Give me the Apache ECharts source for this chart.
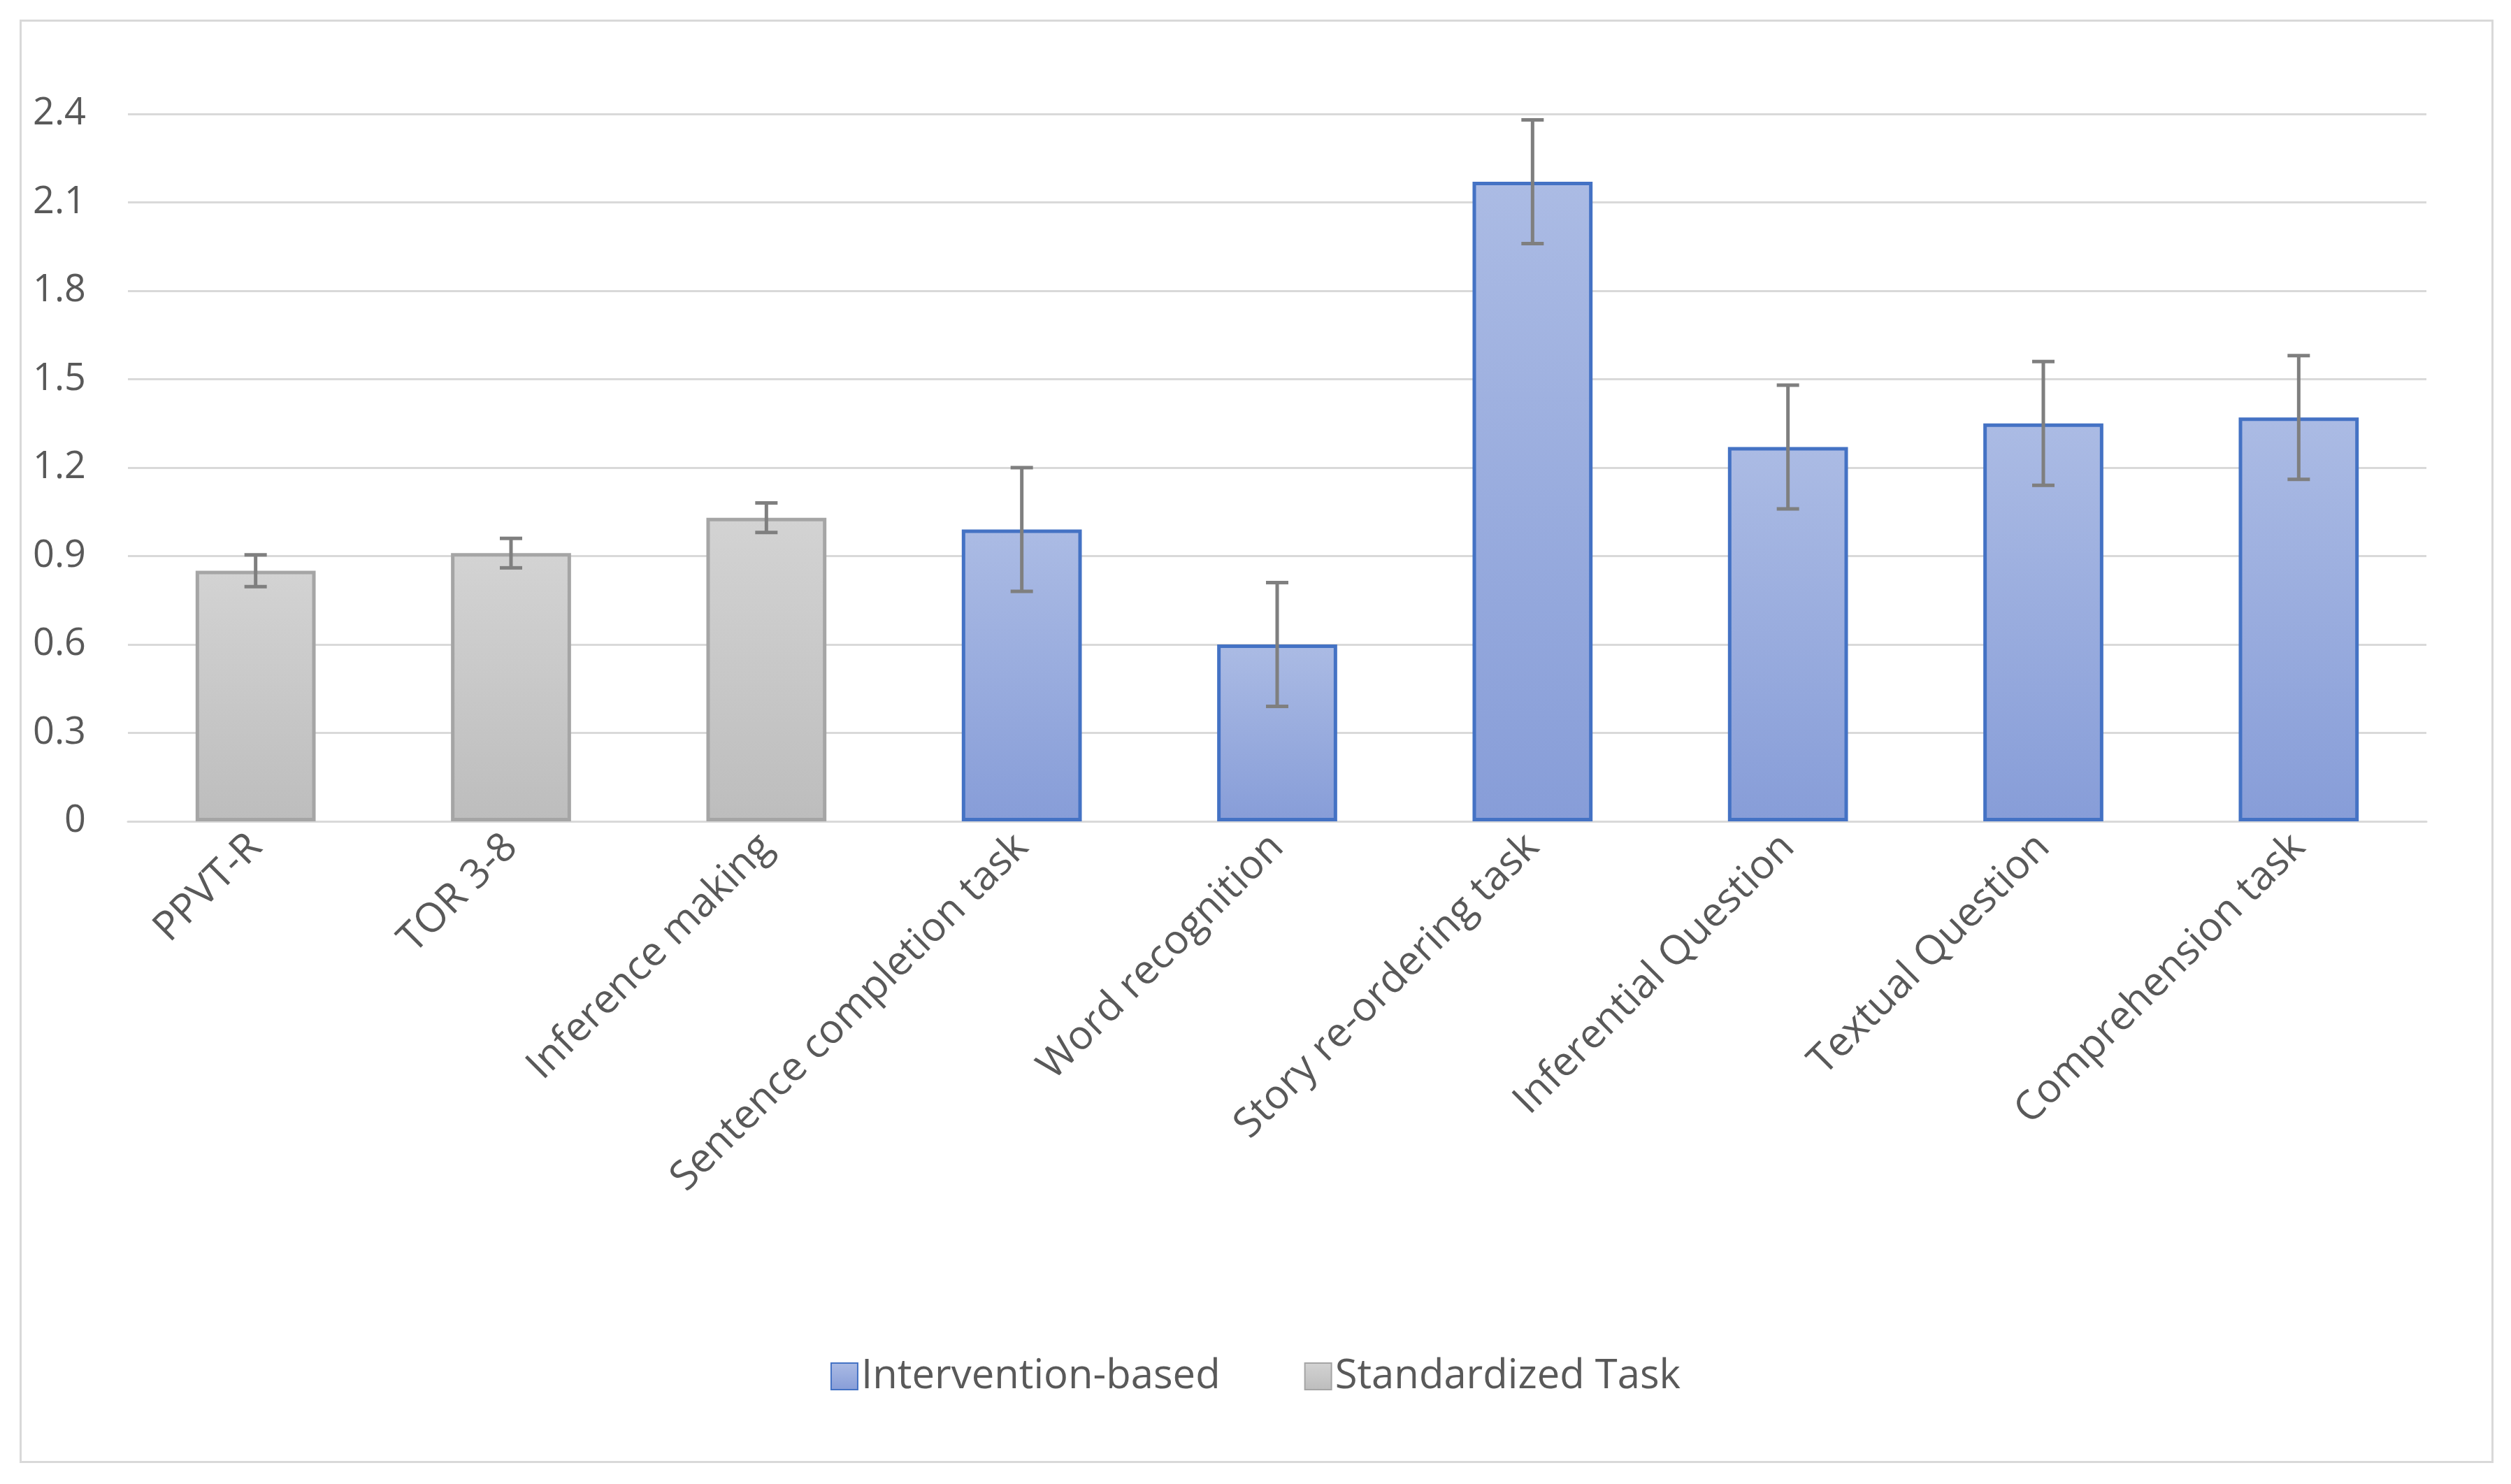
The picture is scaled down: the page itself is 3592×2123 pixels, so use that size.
<!DOCTYPE html>
<html>
<head>
<meta charset="utf-8">
<script src="https://cdn.jsdelivr.net/npm/echarts@6/dist/echarts.min.js"></script>
<style>html,body{margin:0;padding:0;background:#fff}#main{width:3592px;height:2123px}</style>
</head>
<body>
<div id="main"></div>
<script>
var categories = ['PPVT-R', 'TOR 3-8', 'Inference making', 'Sentence completion task', 'Word recognition',
  'Story re-ordering task', 'Inferential Question', 'Textual Question', 'Comprehension task'];
var standardized = [0.85, 0.91, 1.03, '-', '-', '-', '-', '-', '-'];
var intervention = ['-', '-', '-', 0.99, 0.60, 2.17, 1.27, 1.35, 1.37];
var errors = [0.054, 0.05, 0.05, 0.21, 0.21, 0.21, 0.21, 0.21, 0.21];
var values = [0.85, 0.91, 1.03, 0.99, 0.60, 2.17, 1.27, 1.35, 1.37];

var chart = echarts.init(document.getElementById('main'));
var font = 'Open Sans, Liberation Sans, sans-serif';

var blueFill = new echarts.graphic.LinearGradient(0, 0, 0, 1, [
  {offset: 0, color: '#abbbe4'}, {offset: 1, color: '#879dd8'}]);
var grayFill = new echarts.graphic.LinearGradient(0, 0, 0, 1, [
  {offset: 0, color: '#d3d3d3'}, {offset: 1, color: '#bdbdbd'}]);

var option = {
  animation: false,
  graphic: [{
    type: 'rect', left: 27, top: 27,
    shape: {width: 3536, height: 2062},
    style: {fill: 'none', stroke: '#d9d9d9', lineWidth: 3}
  }],
  grid: {left: 183, right: 121, top: 163, bottom: 948, containLabel: false},
  legend: {
    bottom: 120, left: 'center', itemGap: 120, itemWidth: 38, itemHeight: 38,
    textStyle: {fontSize: 58, color: '#595959', fontFamily: font},
    data: [
      {name: 'Intervention-based', icon: 'rect'},
      {name: 'Standardized Task', icon: 'rect'}
    ]
  },
  xAxis: {
    type: 'category', data: categories,
    axisTick: {show: false},
    axisLine: {lineStyle: {color: '#d9d9d9', width: 3}},
    axisLabel: {rotate: 45, interval: 0, fontSize: 58, color: '#595959', fontFamily: font, margin: 28}
  },
  yAxis: {
    type: 'value', min: 0, max: 2.4, interval: 0.3,
    axisLine: {show: false}, axisTick: {show: false},
    splitLine: {lineStyle: {color: '#d9d9d9', width: 3}},
    axisLabel: {fontSize: 54, color: '#595959', fontFamily: font, margin: 60,
      formatter: function (v) { return v === 0 ? '0' : v.toFixed(1); }}
  },
  series: [{
    name: 'Intervention-based', type: 'bar', data: intervention, barWidth: '47%', barGap: '-100%',
    itemStyle: {color: blueFill, borderColor: '#4472c4', borderWidth: 5}
  }, {
    name: 'Standardized Task', type: 'bar', data: standardized, barWidth: '47%',
    itemStyle: {color: grayFill, borderColor: '#a5a5a5', borderWidth: 5}
  }, {
    type: 'custom', name: 'err', silent: true, z: 10,
    data: values.map(function (v, i) { return [i, v - errors[i], v + errors[i]]; }),
    renderItem: function (params, api) {
      var lo = api.coord([api.value(0), api.value(1)]);
      var hi = api.coord([api.value(0), api.value(2)]);
      var w = 16;
      var st = {stroke: '#7f7f7f', lineWidth: 5};
      return {type: 'group', children: [
        {type: 'line', shape: {x1: lo[0], y1: lo[1], x2: hi[0], y2: hi[1]}, style: st},
        {type: 'line', shape: {x1: lo[0] - w, y1: lo[1], x2: lo[0] + w, y2: lo[1]}, style: st},
        {type: 'line', shape: {x1: hi[0] - w, y1: hi[1], x2: hi[0] + w, y2: hi[1]}, style: st}
      ]};
    }
  }]
};
chart.setOption(option);
</script>
</body>
</html>
